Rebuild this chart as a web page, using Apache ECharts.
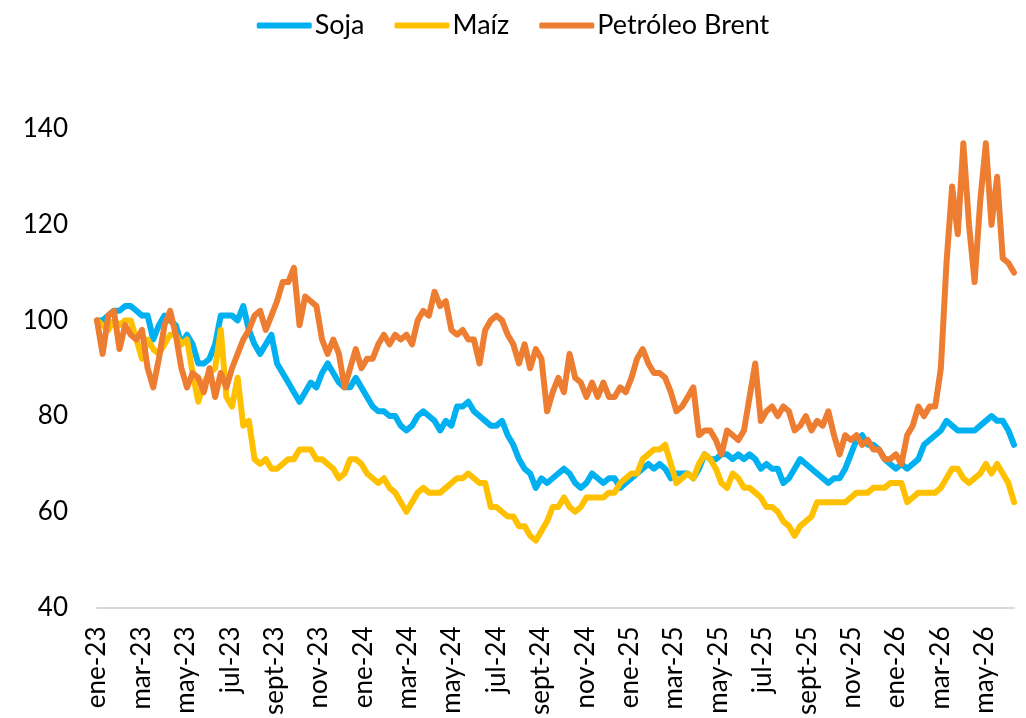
<!DOCTYPE html>
<html lang="es">
<head>
<meta charset="utf-8">
<title>Soja, Maíz y Petróleo Brent</title>
<script src="https://cdn.jsdelivr.net/npm/echarts@6/dist/echarts.min.js"></script>
<style>
  html, body { margin: 0; padding: 0; background: #fff; }
  #chart { width: 1026px; height: 718px; }
</style>
</head>
<body>
<div id="chart"></div>
<script>
// etiquetas del eje x, una cada dos meses (mes 0 = ene-23)
const xTickLabels = ['ene-23', 'mar-23', 'may-23', 'jul-23', 'sept-23', 'nov-23',
  'ene-24', 'mar-24', 'may-24', 'jul-24', 'sept-24', 'nov-24',
  'ene-25', 'mar-25', 'may-25', 'jul-25', 'sept-25', 'nov-25',
  'ene-26', 'mar-26', 'may-26'];

// una observación aprox. por semana (en meses)
const monthsPerStep = 0.2535;

// índice base 100 = ene-23
const soja = [
  100, 100, 101, 102, 102, 103, 103, 102, 101, 101, 96, 99, 101, 100, 99, 95,
  97, 95, 91, 91, 92, 95, 101, 101, 101, 100, 103, 98, 95, 93, 95, 97,
  91, 89, 87, 85, 83, 85, 87, 86, 89, 91, 89, 87, 86, 86, 88, 86,
  84, 82, 81, 81, 80, 80, 78, 77, 78, 80, 81, 80, 79, 77, 79, 78,
  82, 82, 83, 81, 80, 79, 78, 78, 79, 76, 74, 71, 69, 68, 65, 67,
  66, 67, 68, 69, 68, 66, 65, 66, 68, 67, 66, 67, 67, 65, 66, 67,
  68, 69, 70, 69, 70, 69, 67, 68, 68, 68, 67, 69, 72, 71, 71, 72,
  72, 71, 72, 71, 72, 71, 69, 70, 69, 69, 66, 67, 69, 71, 70, 69,
  68, 67, 66, 67, 67, 69, 72, 75, 76, 74, 74, 73, 71, 70, 69, 70,
  69, 70, 71, 74, 75, 76, 77, 79, 78, 77, 77, 77, 77, 78, 79, 80,
  79, 79, 77, 74
];

const maiz = [
  100, 99, 98, 100, 99, 100, 100, 96, 92, 96, 94, 93, 95, 97, 97, 95,
  96, 89, 83, 87, 89, 90, 98, 84, 82, 88, 78, 79, 71, 70, 71, 69,
  69, 70, 71, 71, 73, 73, 73, 71, 71, 70, 69, 67, 68, 71, 71, 70,
  68, 67, 66, 67, 65, 64, 62, 60, 62, 64, 65, 64, 64, 64, 65, 66,
  67, 67, 68, 67, 66, 66, 61, 61, 60, 59, 59, 57, 57, 55, 54, 56,
  58, 61, 61, 63, 61, 60, 61, 63, 63, 63, 63, 64, 64, 66, 67, 68,
  68, 71, 72, 73, 73, 74, 70, 66, 67, 68, 67, 70, 72, 71, 69, 66,
  65, 68, 67, 65, 65, 64, 63, 61, 61, 60, 58, 57, 55, 57, 58, 59,
  62, 62, 62, 62, 62, 62, 63, 64, 64, 64, 65, 65, 65, 66, 66, 66,
  62, 63, 64, 64, 64, 64, 65, 67, 69, 69, 67, 66, 67, 68, 70, 68,
  70, 68, 66, 62
];

const brent = [
  100, 93, 101, 102, 94, 99, 97, 96, 98, 90, 86, 92, 99, 102, 97, 90,
  86, 89, 88, 85, 90, 84, 89, 86, 90, 93, 96, 98, 101, 102, 98, 101,
  104, 108, 108, 111, 99, 105, 104, 103, 96, 93, 96, 93, 86, 90, 94, 90,
  92, 92, 95, 97, 95, 97, 96, 97, 95, 100, 102, 101, 106, 103, 104, 98,
  97, 98, 96, 96, 91, 98, 100, 101, 100, 97, 95, 91, 95, 90, 94, 92,
  81, 85, 88, 85, 93, 88, 87, 84, 87, 84, 87, 84, 84, 86, 85, 88,
  92, 94, 91, 89, 89, 88, 85, 81, 82, 84, 86, 76, 77, 77, 75, 72,
  77, 76, 75, 77, 84, 91, 79, 81, 82, 80, 82, 81, 77, 78, 80, 77,
  79, 78, 81, 76, 72, 76, 75, 76, 74, 75, 73, 73, 71, 71, 72, 70,
  76, 78, 82, 80, 82, 82, 90, 112, 128, 118, 137, 120, 108, 125, 137, 120,
  130, 113, 112, 110
];

const seriesDefs = [
  { name: 'Soja', values: soja, color: '#00B0F0' },
  { name: 'Maíz', values: maiz, color: '#FFC000' },
  { name: 'Petróleo Brent', values: brent, color: '#ED7D31' }
];

const FONT = 'Lato';
const chart = echarts.init(document.getElementById('chart'), null, { renderer: 'canvas' });

chart.setOption({
  animation: false,
  backgroundColor: '#ffffff',
  textStyle: { fontFamily: FONT },
  legend: {
    top: 7,
    left: 'center',
    itemWidth: 55,
    itemHeight: 6,
    itemGap: 30,
    icon: 'roundRect',
    textStyle: { fontFamily: FONT, fontSize: 27, color: '#000', padding: [0, 0, 0, -2] },
    data: seriesDefs.map(s => s.name)
  },
  grid: { left: 97, right: 12, top: 129, bottom: 107, containLabel: false },
  xAxis: {
    type: 'value',
    min: 0,
    max: (soja.length - 1) * monthsPerStep,
    interval: 2,
    axisLine: { show: true, lineStyle: { color: '#d9d9d9', width: 2 } },
    axisTick: { show: false },
    splitLine: { show: false },
    axisLabel: {
      rotate: 90,
      margin: 19,
      fontFamily: FONT,
      fontSize: 26,
      color: '#000',
      showMaxLabel: false,
      formatter: v => xTickLabels[Math.round(v / 2)] || ''
    }
  },
  yAxis: {
    type: 'value',
    min: 40,
    max: 140,
    interval: 20,
    axisLine: { show: false },
    axisTick: { show: false },
    splitLine: { show: false },
    axisLabel: { margin: 29, fontFamily: FONT, fontSize: 26, color: '#000' }
  },
  series: seriesDefs.map(s => ({
    name: s.name,
    type: 'line',
    data: s.values.map((v, i) => [i * monthsPerStep, v]),
    showSymbol: false,
    symbol: 'none',
    smooth: false,
    color: s.color,
    lineStyle: { color: s.color, width: 6, cap: 'round', join: 'round' }
  }))
});
</script>
</body>
</html>
